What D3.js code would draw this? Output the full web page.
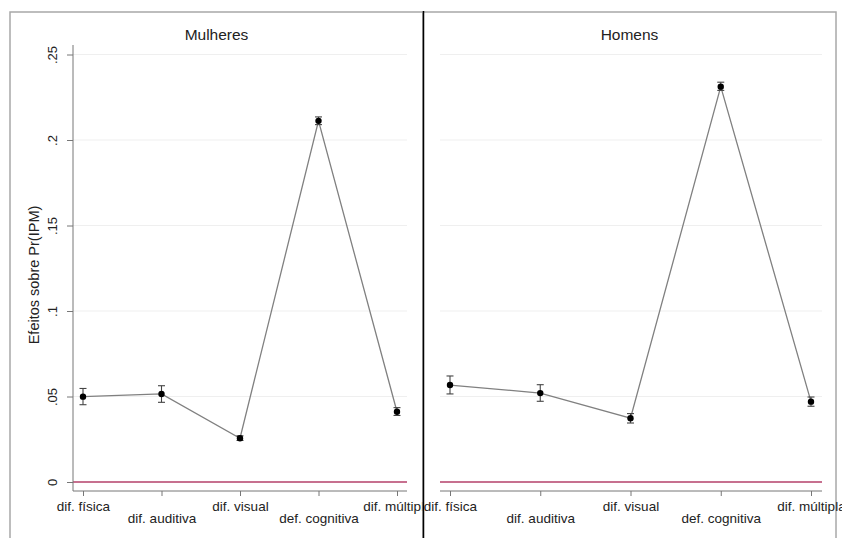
<!DOCTYPE html>
<html>
<head>
<meta charset="utf-8">
<script src="https://cdn.jsdelivr.net/npm/d3@7/dist/d3.min.js"></script>
<style>
html,body{margin:0;padding:0;background:#fff;}
svg{display:block;font-family:"Liberation Sans",Arial,sans-serif;}
</style>
</head>
<body>
<svg id="chart" width="842" height="538"></svg>
<script>
const categories = ["dif. física","dif. auditiva","dif. visual","def. cognitiva","dif. múltipla"];
const panelTitles = ["Mulheres","Homens"];
const mulheres   = [0.0499, 0.0515, 0.0256, 0.2112, 0.0411];
const mulheresLo = [0.0452, 0.0466, 0.0243, 0.2090, 0.0389];
const mulheresHi = [0.0547, 0.0563, 0.0270, 0.2135, 0.0435];
const homens     = [0.0567, 0.0520, 0.0373, 0.2312, 0.0470];
const homensLo   = [0.0515, 0.0472, 0.0345, 0.2290, 0.0443];
const homensHi   = [0.0620, 0.0569, 0.0400, 0.2338, 0.0497];
const yTicks = [0, 0.05, 0.1, 0.15, 0.2, 0.25];
const yTickLabels = ["0", ".05", ".1", ".15", ".2", ".25"];
const yTitle = "Efeitos sobre Pr(IPM)";

const svg = d3.select("#chart");
const y = d3.scaleLinear().domain([0, 0.25]).range([482, 54.5]);

const panels = [
  {title: panelTitles[0], vals: mulheres, lo: mulheresLo, hi: mulheresHi,
   px0: 10, px1: 423, plotL: 73, plotR: 407, xr: [83, 397], yaxis: true},
  {title: panelTitles[1], vals: homens, lo: homensLo, hi: homensHi,
   px0: 423, px1: 836, plotL: 440, plotR: 822, xr: [450, 811], yaxis: false}
];

const defs = svg.append("defs");
defs.append("clipPath").attr("id","clipL").append("rect")
  .attr("x",0).attr("y",0).attr("width",423).attr("height",538);

const axisY = 491, plotTop = 45;

panels.forEach((p, pi) => {
  const g = svg.append("g");
  if (pi === 0) g.attr("clip-path","url(#clipL)");
  const x = d3.scalePoint().domain(categories).range(p.xr);

  // panel border
  g.append("rect").attr("x",p.px0).attr("y",12).attr("width",p.px1-p.px0).attr("height",560)
    .attr("fill","none").attr("stroke","#a8a8a8").attr("stroke-width",1.5);

  // title
  g.append("text").attr("x",(p.px0+p.px1)/2).attr("y",40).attr("text-anchor","middle")
    .attr("font-size","15.5px").attr("fill","#222").text(p.title);

  // gridlines
  g.selectAll(".grid").data(yTicks.slice(1)).enter().append("line")
    .attr("x1",p.plotL).attr("x2",p.plotR).attr("y1",d=>y(d)).attr("y2",d=>y(d))
    .attr("stroke","#efefef").attr("stroke-width",1);

  // zero reference line
  g.append("line").attr("x1",p.plotL).attr("x2",p.plotR).attr("y1",y(0)).attr("y2",y(0))
    .attr("stroke","#b5406a").attr("stroke-width",1.6);

  // y axis
  if (p.yaxis) {
    const ya = d3.axisLeft(y).tickValues(yTicks).tickSize(6)
      .tickFormat((d,i)=>yTickLabels[i]);
    const ag = g.append("g").attr("transform",`translate(${p.plotL},0)`).call(ya);
    ag.select(".domain").remove();
    ag.selectAll(".tick line").attr("stroke","#777");
    ag.selectAll(".tick text").attr("x",0).attr("dy",0).attr("y",0)
      .attr("transform","translate(-16,0) rotate(-90)")
      .attr("text-anchor","middle").attr("font-size","13px").attr("fill","#222")
      .attr("font-family","'Liberation Sans',Arial,sans-serif");
    g.append("line").attr("x1",p.plotL).attr("x2",p.plotL).attr("y1",plotTop).attr("y2",axisY)
      .attr("stroke","#777").attr("stroke-width",1);
    g.append("text").attr("transform",`translate(39,${275}) rotate(-90)`)
      .attr("text-anchor","middle").attr("font-size","14.5px").attr("fill","#222").text(yTitle);
  }

  // x axis
  const xa = d3.axisBottom(x).tickSize(5).tickSizeOuter(0);
  const xg = g.append("g").attr("transform",`translate(0,${axisY})`).call(xa);
  xg.select(".domain").remove();
  xg.selectAll(".tick line").attr("stroke","#777");
  xg.selectAll(".tick text").attr("dy",0).attr("y",(d,i)=> i%2===0 ? 19.5 : 32)
    .attr("font-size","13.5px").attr("fill","#222")
    .attr("font-family","'Liberation Sans',Arial,sans-serif");
  g.append("line").attr("x1",p.plotL).attr("x2",p.plotR).attr("y1",axisY).attr("y2",axisY)
    .attr("stroke","#777").attr("stroke-width",1);

  // connecting line
  const pts = categories.map((c,i)=>({c, v:p.vals[i], lo:p.lo[i], hi:p.hi[i]}));
  g.append("path").datum(pts)
    .attr("d", d3.line().x(d=>x(d.c)).y(d=>y(d.v)))
    .attr("fill","none").attr("stroke","#808080").attr("stroke-width",1.3);

  // error bars
  const eb = g.selectAll(".eb").data(pts).enter().append("g");
  eb.append("line").attr("x1",d=>x(d.c)).attr("x2",d=>x(d.c))
    .attr("y1",d=>y(d.lo)).attr("y2",d=>y(d.hi)).attr("stroke","#444").attr("stroke-width",1.1);
  eb.append("line").attr("x1",d=>x(d.c)-3.5).attr("x2",d=>x(d.c)+3.5)
    .attr("y1",d=>y(d.lo)).attr("y2",d=>y(d.lo)).attr("stroke","#444").attr("stroke-width",1.1);
  eb.append("line").attr("x1",d=>x(d.c)-3.5).attr("x2",d=>x(d.c)+3.5)
    .attr("y1",d=>y(d.hi)).attr("y2",d=>y(d.hi)).attr("stroke","#444").attr("stroke-width",1.1);

  // markers
  g.selectAll(".pt").data(pts).enter().append("circle")
    .attr("cx",d=>x(d.c)).attr("cy",d=>y(d.v)).attr("r",3.2).attr("fill","#000");
});

// separator
svg.append("line").attr("x1",423.5).attr("x2",423.5).attr("y1",11).attr("y2",538)
  .attr("stroke","#000").attr("stroke-width",1.5);
</script>
</body>
</html>
